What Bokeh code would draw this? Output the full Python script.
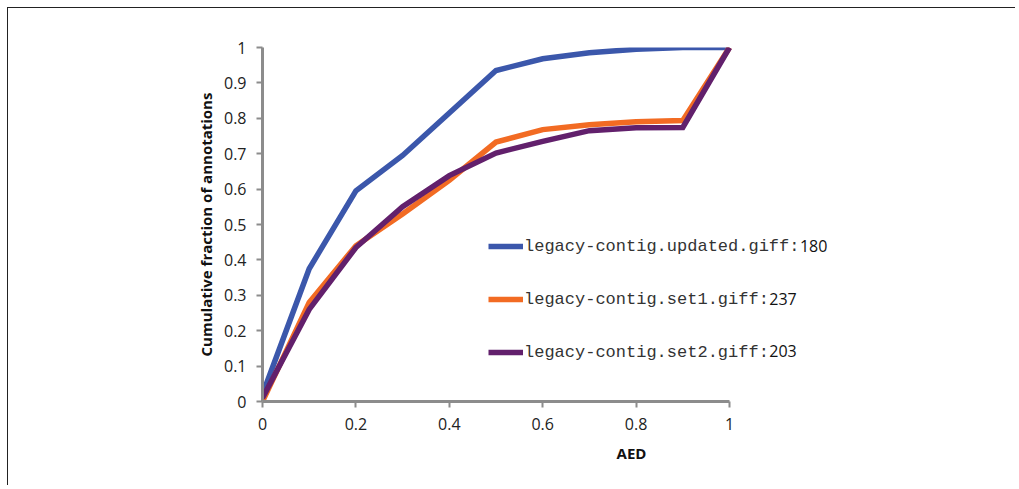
from bokeh.plotting import figure
from bokeh.models import Range1d, FixedTicker, Legend, LegendItem, Label
from bokeh.embed import file_html
from bokeh.resources import INLINE

aed = [0.0, 0.1, 0.2, 0.3, 0.4, 0.5, 0.6, 0.7, 0.8, 0.9, 1.0]
updated = [0.02, 0.375, 0.595, 0.695, 0.815, 0.935, 0.968, 0.985, 0.995, 1.0, 1.0]
set1 = [0.0, 0.28, 0.44, 0.53, 0.625, 0.733, 0.768, 0.782, 0.79, 0.794, 1.0]
set2 = [0.01, 0.26, 0.435, 0.55, 0.638, 0.702, 0.735, 0.765, 0.773, 0.774, 1.0]

names = ["legacy-contig.updated.giff:", "legacy-contig.set1.giff:", "legacy-contig.set2.giff:"]
counts = ["180", "237", "203"]
colors = ["#3B57AB", "#F26B23", "#62206C"]
y_ticks = [0, 0.1, 0.2, 0.3, 0.4, 0.5, 0.6, 0.7, 0.8, 0.9, 1.0]
x_ticks = [0, 0.2, 0.4, 0.6, 0.8, 1.0]

# page geometry (picture pixels)
OFF = 7                      # figure offset inside page
W, H = 1008, 478
FL, FR_UNIT, FT, FB = 262, 729, 47, 401   # frame left, x=1 position, top, bottom
FR = 1000                    # frame extends right (hidden) so the legend is not clipped
x_end = (FR - FL) / (FR_UNIT - FL)

p = figure(width=W, height=H, output_backend="svg", toolbar_location=None,
           x_range=Range1d(0, x_end), y_range=Range1d(0, 1),
           min_border_left=FL - OFF - 1, min_border_right=W - (FR - OFF - 1),
           min_border_top=FT - OFF - 1, min_border_bottom=H - (FB - OFF - 1))
p.styles = {"border-top": "1px solid #222", "border-left": "1px solid #222",
            "margin-top": f"{OFF}px", "margin-left": f"{OFF}px"}
p.outline_line_color = None
p.xgrid.visible = False
p.ygrid.visible = False
p.background_fill_color = "white"
p.border_fill_color = "white"

FONT = "Open Sans"
for ax in (p.xaxis, p.yaxis):
    ax.axis_line_color = "#8c8c8c"
    ax.axis_line_width = 3
    ax.major_tick_line_color = "#8c8c8c"
    ax.major_tick_line_width = 2
    ax.major_tick_out = 6
    ax.major_tick_in = 0
    ax.minor_tick_line_color = None
    ax.major_label_text_font = FONT
    ax.major_label_text_font_size = "16px"
    ax.major_label_text_color = "#222222"
    ax.axis_label_text_font = FONT
    ax.axis_label_text_font_size = "15px"
    ax.axis_label_text_font_style = "bold"
    ax.axis_label_text_color = "#111111"

p.xaxis.bounds = (0, 1)
p.xaxis.ticker = FixedTicker(ticks=x_ticks)
p.yaxis.ticker = FixedTicker(ticks=y_ticks)
p.xaxis.major_label_overrides = {t: ("0" if t == 0 else "1" if t == 1 else f"{t:.1f}") for t in x_ticks}
p.yaxis.major_label_overrides = {t: ("0" if t == 0 else "1" if t == 1 else f"{t:.1f}") for t in y_ticks}
p.xaxis.major_label_standoff = 10
p.yaxis.major_label_standoff = 10
p.xaxis.axis_label = "AED"
p.yaxis.axis_label = "Cumulative fraction of annotations"
p.xaxis.axis_label_standoff = 10
p.yaxis.axis_label_standoff = 5

series = [updated, set1, set2]
renderers = []
for ys, c in zip(series, colors):
    r = p.line(aed, ys, line_color=c, line_width=5.5, line_join="miter")
    renderers.append(r)

LEG_X = 488            # picture x where legend glyphs start
ROW_Y = [247, 300, 352]  # picture y of legend rows
legend = Legend(items=[LegendItem(label=n, renderers=[r]) for n, r in zip(names, renderers)],
                location=(LEG_X - FL, FB - (ROW_Y[-1] + 10)),
                orientation="vertical")
legend.label_text_font = "Liberation Mono"
legend.label_text_font_size = "17px"
legend.label_text_color = "#333333"
legend.glyph_width = 35
legend.glyph_height = 20
legend.label_height = 20
legend.label_standoff = 1
legend.spacing = 33
legend.padding = 0
legend.margin = 0
legend.border_line_color = None
legend.background_fill_alpha = 0
p.add_layout(legend, "center")

# numbers after legend labels (sans-serif, as in the reference)
char_w = 0.6 * 17
for i, cnt in enumerate(counts):
    x_px = LEG_X + 35 + 1 + len(names[i]) * char_w
    lab = Label(x=x_px - FL, y=FB - ROW_Y[i] + 2, x_units="screen", y_units="screen", text=cnt,
                text_font=FONT, text_font_size="16px", text_color="#111111",
                text_baseline="middle", text_align="left")
    p.add_layout(lab)

open("out.html", "w").write(file_html(p, INLINE))
